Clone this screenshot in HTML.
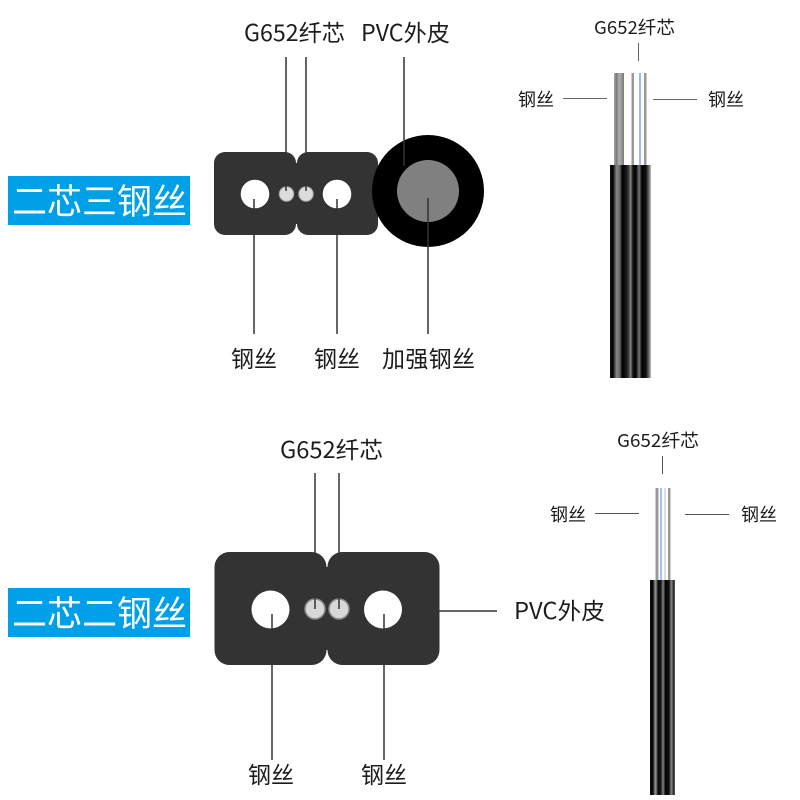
<!DOCTYPE html>
<html><head><meta charset="utf-8">
<style>
html,body{margin:0;padding:0;background:#fff;width:800px;height:800px;overflow:hidden}
svg{display:block}
text{font-family:"Liberation Sans","Noto Sans CJK SC",sans-serif;fill:#1c1c1c}
.c{font-family:"Noto Sans CJK SC","Liberation Sans",sans-serif}
</style></head><body>
<svg width="800" height="800" viewBox="0 0 800 800" xmlns="http://www.w3.org/2000/svg">
<defs>
<linearGradient id="b1" x1="610" x2="651" y1="0" y2="0" gradientUnits="userSpaceOnUse">
<stop offset="0" stop-color="#111"/><stop offset=".07" stop-color="#000"/><stop offset=".16" stop-color="#888"/><stop offset=".24" stop-color="#666"/><stop offset=".3" stop-color="#000"/><stop offset=".38" stop-color="#111"/><stop offset=".45" stop-color="#333"/><stop offset=".5" stop-color="#888"/><stop offset=".56" stop-color="#111"/><stop offset=".63" stop-color="#000"/><stop offset=".71" stop-color="#777"/><stop offset=".78" stop-color="#000"/><stop offset=".88" stop-color="#111"/><stop offset=".97" stop-color="#888"/><stop offset="1" stop-color="#ccc"/>
</linearGradient>
<linearGradient id="b2" x1="650" x2="675" y1="0" y2="0" gradientUnits="userSpaceOnUse">
<stop offset="0" stop-color="#111"/><stop offset=".1" stop-color="#000"/><stop offset=".22" stop-color="#999"/><stop offset=".34" stop-color="#000"/><stop offset=".45" stop-color="#222"/><stop offset=".52" stop-color="#888"/><stop offset=".62" stop-color="#000"/><stop offset=".76" stop-color="#111"/><stop offset=".86" stop-color="#888"/><stop offset=".95" stop-color="#222"/><stop offset="1" stop-color="#666"/>
</linearGradient>
<linearGradient id="s1" x1="614" x2="624" y1="0" y2="0" gradientUnits="userSpaceOnUse">
<stop offset="0" stop-color="#aaa"/><stop offset=".25" stop-color="#777"/><stop offset=".5" stop-color="#b0b0b0"/><stop offset=".75" stop-color="#999"/><stop offset="1" stop-color="#777"/>
</linearGradient>
</defs>
<rect width="800" height="800" fill="#fff"/>

<!-- top label -->
<rect x="8" y="176" width="182" height="49" fill="#00a0e9"/>
<text class="c" x="12" y="214" font-size="35" textLength="175" lengthAdjust="spacing" style="fill:#fff">二芯三钢丝</text>

<!-- top section diagram -->
<rect x="214" y="152" width="82" height="83" rx="11" fill="#333"/>
<rect x="297" y="152" width="81" height="83" rx="11" fill="#333"/>
<rect x="290" y="163" width="14" height="61" fill="#333"/>
<circle cx="428" cy="191" r="56" fill="#000"/>
<circle cx="428" cy="191" r="31" fill="#808080"/>
<circle cx="255" cy="194" r="14.300" fill="#fff"/>
<circle cx="337" cy="194" r="14.300" fill="#fff"/>
<circle cx="286.500" cy="194" r="7.200" fill="#dcdcdc" stroke="#aaa" stroke-width="1"/>
<circle cx="306" cy="194" r="7.200" fill="#dcdcdc" stroke="#aaa" stroke-width="1"/>
<g stroke="#333" stroke-width="1.500" fill="none">
<path d="M286 57V191M306 57V191M404 57V166"/>
<path d="M254 199V334M337 199V334M428 198V334"/>
</g>
<text class="c" x="244" y="41" font-size="23" textLength="101" lengthAdjust="spacingAndGlyphs">G652纤芯</text>
<text class="c" x="361" y="41" font-size="23" textLength="89" lengthAdjust="spacingAndGlyphs">PVC外皮</text>
<text class="c" x="231" y="367" font-size="23" textLength="46">钢丝</text>
<text class="c" x="314" y="367" font-size="23" textLength="46">钢丝</text>
<text class="c" x="382" y="367" font-size="23" textLength="93">加强钢丝</text>

<!-- top cable -->
<rect x="614" y="73" width="10" height="93" fill="url(#s1)"/>
<rect x="631.500" y="73" width="2.500" height="93" fill="#999"/>
<rect x="639" y="73" width="2" height="93" fill="#9db8f0"/>
<rect x="644" y="73" width="2.500" height="93" fill="#999"/>
<rect x="610" y="165" width="41" height="213" fill="url(#b1)"/>
<text class="c" x="594" y="34" font-size="18" textLength="81" lengthAdjust="spacingAndGlyphs">G652纤芯</text>
<text class="c" x="518" y="106" font-size="18">钢丝</text>
<text class="c" x="708" y="106" font-size="18">钢丝</text>
<g stroke="#666" stroke-width="1" fill="none">
<path d="M638.500 43V61M563 98.500H607M653 99.500H697"/>
</g>

<!-- bottom label -->
<rect x="8" y="588" width="182" height="49" fill="#00a0e9"/>
<text class="c" x="12" y="626" font-size="35" textLength="175" lengthAdjust="spacing" style="fill:#fff">二芯二钢丝</text>

<!-- bottom section diagram -->
<rect x="214.500" y="552" width="112" height="113" rx="15" fill="#333"/>
<rect x="327.500" y="552" width="112" height="113" rx="15" fill="#333"/>
<rect x="320" y="567" width="14" height="83" fill="#333"/>
<circle cx="270.500" cy="609.500" r="19" fill="#fff"/>
<circle cx="383" cy="609.500" r="19" fill="#fff"/>
<circle cx="315" cy="609" r="10" fill="#d8d8d8" stroke="#888" stroke-width="1.500"/>
<circle cx="339" cy="609" r="10" fill="#d8d8d8" stroke="#888" stroke-width="1.500"/>
<g stroke="#333" stroke-width="1.500" fill="none">
<path d="M315 473V609M339 473V609"/>
<path d="M272 614V760M384 614V760M439 611H497"/>
</g>
<text class="c" x="280" y="458" font-size="23" textLength="103" lengthAdjust="spacingAndGlyphs">G652纤芯</text>
<text class="c" x="514" y="619" font-size="23" textLength="91" lengthAdjust="spacingAndGlyphs">PVC外皮</text>
<text class="c" x="248" y="783" font-size="23" textLength="46">钢丝</text>
<text class="c" x="361" y="783" font-size="23" textLength="46">钢丝</text>

<!-- bottom cable -->
<rect x="655.500" y="488" width="3" height="92" fill="#999"/>
<rect x="660" y="488" width="2" height="92" fill="#a5c0f5"/>
<rect x="664" y="488" width="2" height="92" fill="#ddd"/>
<rect x="668" y="488" width="2.500" height="92" fill="#999"/>
<rect x="650" y="580" width="25" height="215" fill="url(#b2)"/>
<text class="c" x="617" y="447" font-size="18" textLength="82" lengthAdjust="spacingAndGlyphs">G652纤芯</text>
<text class="c" x="550" y="521" font-size="18">钢丝</text>
<text class="c" x="741" y="521" font-size="18">钢丝</text>
<g stroke="#555" stroke-width="1" fill="none">
<path d="M662.500 456V474M595 513.500H639M685 514.500H729"/>
</g>
</svg>
</body></html>
